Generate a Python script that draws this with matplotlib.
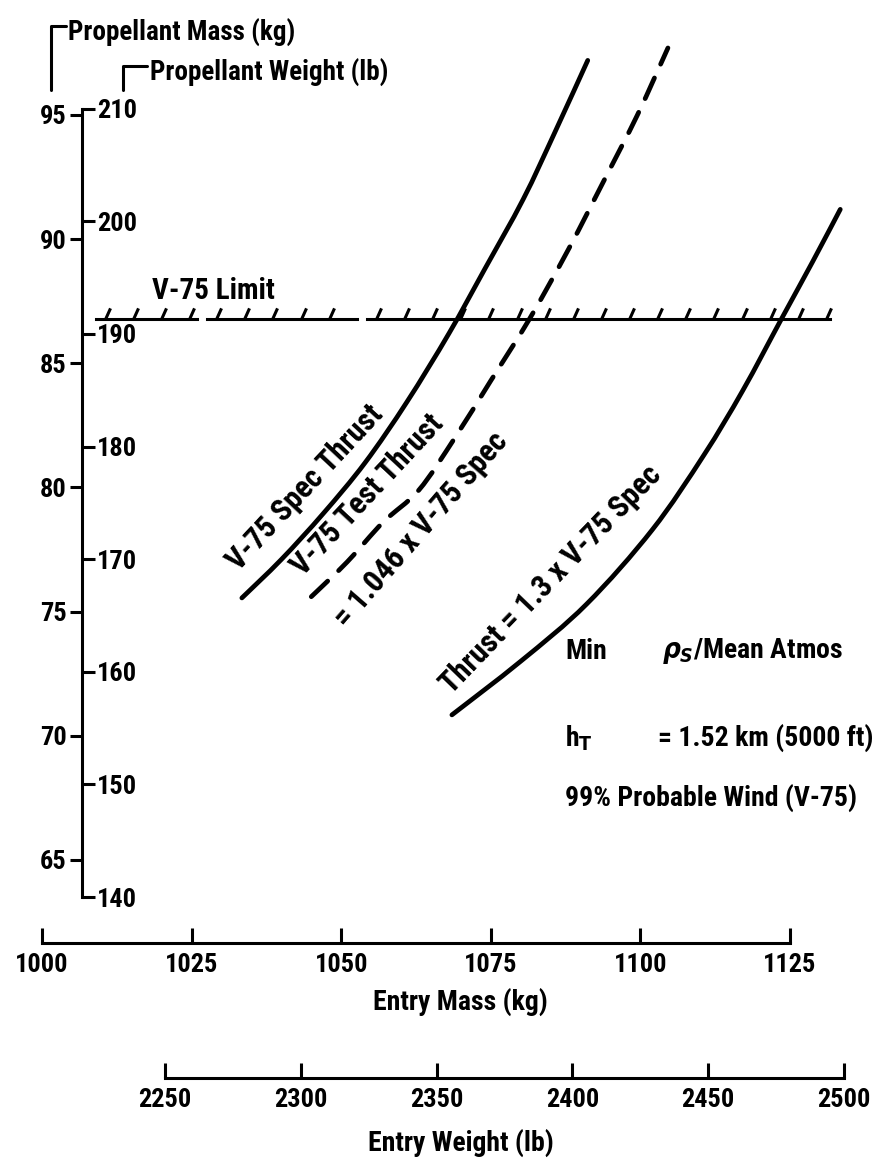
import numpy as np
import matplotlib
matplotlib.use('Agg')
import matplotlib.pyplot as plt
from matplotlib.path import Path
from matplotlib.patches import PathPatch

plt.rcParams['font.family'] = ['DejaVu Sans Condensed', 'Roboto Condensed', 'Liberation Sans Narrow', 'DejaVu Sans']
plt.rcParams['font.stretch'] = 'condensed'
plt.rcParams['font.weight'] = 'bold'
plt.rcParams['axes.labelweight'] = 'bold'

KG_PER_LB = 0.45359237

# entry mass (kg) vs propellant mass (kg)
spec_mass = [1033.4, 1040, 1047, 1054, 1061, 1068, 1074, 1080.4, 1085.7, 1091.2]
spec_prop = [75.55, 77.1, 78.95, 81.0, 83.45, 86.2, 88.8, 91.6, 94.3, 97.2]

test_mass = [1045.0, 1051.0, 1057.0, 1063.0, 1069.0, 1075.0, 1081.5, 1088.0, 1094.0, 1099.5, 1104.6]
test_prop = [75.6, 77.0, 78.6, 79.9, 82.0, 84.3, 86.8, 89.6, 92.4, 95.0, 97.7]

high_mass = [1068.5, 1080, 1091, 1102, 1110.6, 1117.1, 1123.6, 1128.8, 1133.4]
high_prop = [70.84, 73.0, 75.3, 78.3, 81.3, 83.9, 86.8, 89.1, 91.2]

v75_limit = 86.8
limit_spans = [(1009.0, 1025.9), (1027.6, 1052.6), (1054.3, 1131.7)]

prop_mass_ticks = [65, 70, 75, 80, 85, 90, 95]
prop_weight_ticks = [140, 150, 160, 170, 180, 190, 200, 210]
entry_mass_ticks = [1000, 1025, 1050, 1075, 1100, 1125]
entry_weight_ticks = [2250, 2300, 2350, 2400, 2450, 2500]


def kg2lb(v):
    return np.asarray(v) / KG_PER_LB


def lb2kg(v):
    return np.asarray(v) * KG_PER_LB


def smooth_path(xs, ys):
    # Catmull-Rom style bezier through the read points
    pts = np.column_stack([xs, ys]).astype(float)
    verts = [pts[0]]
    codes = [Path.MOVETO]
    n = len(pts)
    for i in range(n - 1):
        p0 = pts[i - 1] if i > 0 else pts[i]
        p1, p2 = pts[i], pts[i + 1]
        p3 = pts[i + 2] if i + 2 < n else pts[i + 1]
        verts += [p1 + (p2 - p0) / 6, p2 - (p3 - p1) / 6, p2]
        codes += [Path.CURVE4] * 3
    return Path(verts, codes)


W, H = 885, 1163
fig = plt.figure(figsize=(W / 100, H / 100), dpi=100)

# pixel layout of the data area
x_px0, sx = 42.0, 5.984      # px at 1000 kg, px per kg (entry)
y_px95, sy = 115.0, 24.83    # px at 95 kg, px per kg (propellant)
xlim = (1000, 1140)
ylim = (60, 98.5)
top_px = y_px95 - (ylim[1] - 95) * sy
bot_px = y_px95 + (95 - ylim[0]) * sy
ax = fig.add_axes([x_px0 / W, 1 - bot_px / H, (xlim[1] - xlim[0]) * sx / W, (bot_px - top_px) / H])
ax.set_xlim(*xlim)
ax.set_ylim(*ylim)
ax.patch.set_visible(False)

lw_axis = 2.2
fs = 20      # general text
fs_tick = 19
fs_curve = 22

ax.spines['top'].set_visible(False)
ax.spines['right'].set_visible(False)

# propellant axis (vertical line with kg on the left, lb on the right)
axis_x = 1006.7
ax.spines['left'].set_position(('data', axis_x))
ax.spines['left'].set_bounds(lb2kg(prop_weight_ticks[0]), lb2kg(prop_weight_ticks[-1]))
ax.spines['left'].set_linewidth(lw_axis)
ax.set_yticks(prop_mass_ticks)
ax.tick_params(axis='y', direction='out', length=9, width=lw_axis, labelsize=fs_tick, pad=2)

secy = ax.secondary_yaxis((axis_x - xlim[0]) / (xlim[1] - xlim[0]), functions=(kg2lb, lb2kg))
secy.set_alignment('right')
secy.set_yticks(prop_weight_ticks)
secy.tick_params(axis='y', direction='out', length=9, width=lw_axis, labelsize=fs_tick, pad=2)
for s in secy.spines.values():
    s.set_visible(False)

# entry mass axis
mass_axis_y = 61.65
ax.spines['bottom'].set_position(('data', mass_axis_y))
ax.spines['bottom'].set_bounds(entry_mass_ticks[0], entry_mass_ticks[-1])
ax.spines['bottom'].set_linewidth(lw_axis)
ax.set_xticks(entry_mass_ticks)
ax.tick_params(axis='x', direction='in', length=11, width=lw_axis, labelsize=fs_tick, pad=7)
ax.set_xlabel('Entry Mass (kg)', fontsize=fs, labelpad=8)

# entry weight axis
weight_axis_px = 1078
secx = ax.secondary_xaxis((bot_px - weight_axis_px) / (bot_px - top_px), functions=(kg2lb, lb2kg))
secx.set_xticks(entry_weight_ticks)
secx.tick_params(axis='x', direction='in', length=11, width=lw_axis, labelsize=fs_tick, pad=7)
secx.spines['bottom'].set_bounds(entry_weight_ticks[0], entry_weight_ticks[-1])
secx.spines['bottom'].set_linewidth(lw_axis)
secx.set_xlabel('Entry Weight (lb)', fontsize=fs, labelpad=12)

# curves
ax.add_patch(PathPatch(smooth_path(spec_mass, spec_prop), fill=False, edgecolor='black',
                       lw=3.4, capstyle='round'))
ax.add_patch(PathPatch(smooth_path(test_mass, test_prop), fill=False, edgecolor='black',
                       lw=3.4, capstyle='round', linestyle=(0, (4.8, 3.2))))
ax.add_patch(PathPatch(smooth_path(high_mass, high_prop), fill=False, edgecolor='black',
                       lw=3.4, capstyle='round', clip_on=False))

# V-75 limit line with hatching
hatch = Path([(0, 0), (0.45, 1)], [Path.MOVETO, Path.LINETO])
for a, b in limit_spans:
    ax.plot([a, b], [v75_limit, v75_limit], color='black', lw=2.2)
    hx = np.arange(a + 1.5, b - 0.5, 4.7)
    ax.plot(hx, np.full_like(hx, v75_limit), linestyle='none', marker=hatch,
            markersize=16, markeredgewidth=2.2, markeredgecolor='black', markerfacecolor='none')
ax.text(1018.3, 87.9, 'V-75 Limit', fontsize=21, ha='left', va='center')

# curve labels
ax.text(1044.0, 80.0, 'V-75 Spec Thrust', fontsize=fs_curve, rotation=47,
        rotation_mode='anchor', ha='center', va='center')
ax.text(1054.3, 79.7, 'V-75 Test Thrust', fontsize=fs_curve, rotation=47,
        rotation_mode='anchor', ha='center', va='center')
ax.text(1063.4, 78.3, '= 1.046 x V-75 Spec', fontsize=fs_curve, rotation=49,
        rotation_mode='anchor', ha='center', va='center')
ax.text(1085.0, 76.3, 'Thrust = 1.3 x V-75 Spec', fontsize=fs_curve, rotation=46,
        rotation_mode='anchor', ha='center', va='center')

# conditions
ax.text(1087.4, 73.4, 'Min', fontsize=fs, ha='left', va='center')
ax.text(1103.6, 73.4, r'$\rho_S$' + '/Mean Atmos', fontsize=fs, ha='left', va='center')
ax.text(1087.4, 69.9, r'h$_\mathsf{T}$', fontsize=fs, ha='left', va='center')
ax.text(1103.0, 69.9, '= 1.52 km (5000 ft)', fontsize=fs, ha='left', va='center')
ax.text(1087.4, 67.5, '99% Probable Wind (V-75)', fontsize=fs, ha='left', va='center')

# axis titles with brackets
ax.annotate('Propellant Mass (kg)', xy=(1001.5, 96.0), xytext=(1004.4, 98.3),
            fontsize=19.5, ha='left', va='center', annotation_clip=False,
            arrowprops=dict(arrowstyle='-', lw=lw_axis, color='black', shrinkA=0, shrinkB=0,
                            relpos=(0, 0.75), connectionstyle='angle,angleA=0,angleB=90,rad=0'))
ax.annotate('Propellant Weight (lb)', xy=(1013.5, 96.0), xytext=(1018.0, 96.7),
            fontsize=19.5, ha='left', va='center', annotation_clip=False,
            arrowprops=dict(arrowstyle='-', lw=lw_axis, color='black', shrinkA=0, shrinkB=0,
                            relpos=(0, 0.75), connectionstyle='angle,angleA=0,angleB=90,rad=0'))

fig.savefig('out.png', dpi=100)
